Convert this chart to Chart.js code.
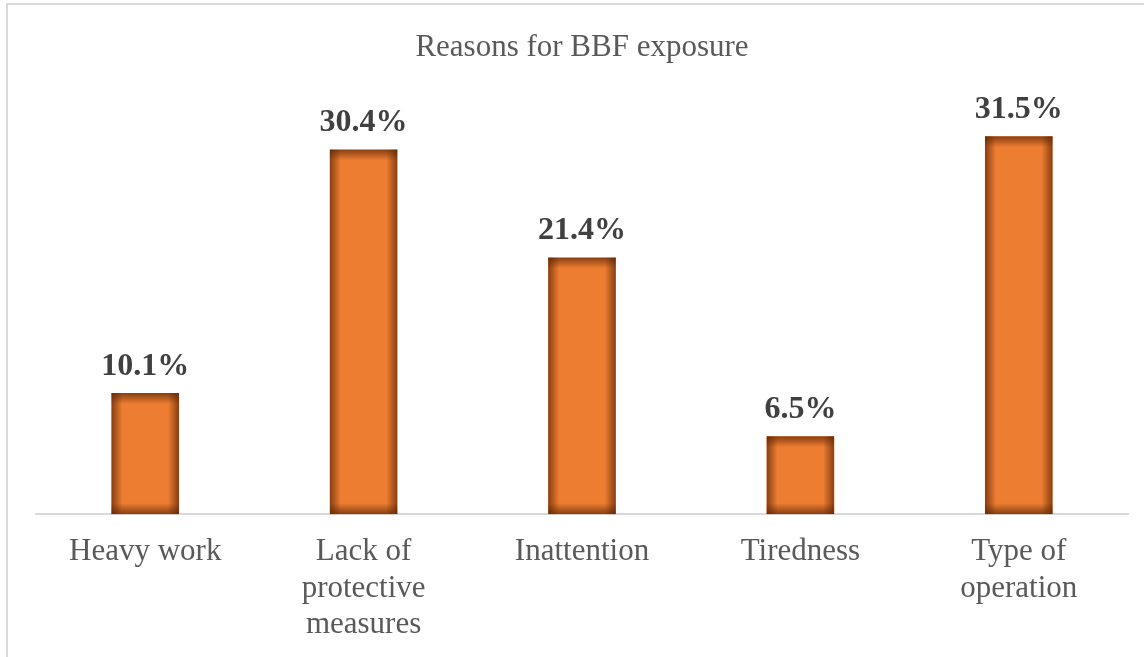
<!DOCTYPE html>
<html>
<head>
<meta charset="utf-8">
<script src="https://cdn.jsdelivr.net/npm/chart.js@4/dist/chart.umd.min.js"></script>
<style>
  html, body { margin: 0; padding: 0; background: #ffffff; }
  #wrap { width: 1144px; height: 657px; position: relative; }
</style>
</head>
<body>
<div id="wrap"><canvas id="chart" width="1144" height="657"></canvas></div>
<script>
const categories = [
    'Heavy work',
    ['Lack of', 'protective', 'measures'],
    'Inattention',
    'Tiredness',
    ['Type of', 'operation']
];
const percentages = [10.1, 30.4, 21.4, 6.5, 31.5];
const titleText = 'Reasons for BBF exposure';

const serif = '"Liberation Serif", "Times New Roman", serif';

// frame round the picture, like the exported chart area
const framePlugin = {
    id: 'frame',
    beforeDraw(chart) {
        const ctx = chart.ctx;
        ctx.save();
        ctx.fillStyle = '#ffffff';
        ctx.fillRect(0, 0, chart.width, chart.height);
        ctx.strokeStyle = '#d9d9d9';
        ctx.lineWidth = 2;
        ctx.strokeRect(7, 4, chart.width + 20, chart.height + 20);
        ctx.restore();
    }
};

// inner shadow on each bar plus the value label above it
const barDecor = {
    id: 'barDecor',
    afterDatasetsDraw(chart) {
        const ctx = chart.ctx;
        const meta = chart.getDatasetMeta(0);
        meta.data.forEach((bar, i) => {
            const left = bar.x - bar.width / 2;
            const right = bar.x + bar.width / 2;
            const top = bar.y;
            const bottom = bar.base;
            const w = right - left;
            const h = bottom - top;
            const edge = 11;
            ctx.save();
            ctx.beginPath();
            ctx.rect(left, top, w, h);
            ctx.clip();
            const shade = 'rgba(90,35,5,0.7)';
            const clear = 'rgba(90,35,5,0)';
            let g = ctx.createLinearGradient(left, 0, left + edge, 0);
            g.addColorStop(0, shade); g.addColorStop(1, clear);
            ctx.fillStyle = g; ctx.fillRect(left, top, edge, h);
            g = ctx.createLinearGradient(right, 0, right - edge, 0);
            g.addColorStop(0, shade); g.addColorStop(1, clear);
            ctx.fillStyle = g; ctx.fillRect(right - edge, top, edge, h);
            g = ctx.createLinearGradient(0, top, 0, top + edge);
            g.addColorStop(0, shade); g.addColorStop(1, clear);
            ctx.fillStyle = g; ctx.fillRect(left, top, w, edge);
            g = ctx.createLinearGradient(0, bottom, 0, bottom - edge);
            g.addColorStop(0, shade); g.addColorStop(1, clear);
            ctx.fillStyle = g; ctx.fillRect(left, bottom - edge, w, edge);
            ctx.restore();

            ctx.save();
            ctx.fillStyle = '#404040';
            ctx.font = 'bold 32px ' + serif;
            ctx.textAlign = 'center';
            ctx.textBaseline = 'alphabetic';
            ctx.fillText(percentages[i].toFixed(1) + '%', bar.x, bar.y - 18);
            ctx.restore();
        });
    }
};

const ctx = document.getElementById('chart').getContext('2d');
new Chart(ctx, {
    type: 'bar',
    data: {
        labels: categories,
        datasets: [{
            data: percentages,
            backgroundColor: '#ed7d31',
            borderWidth: 0,
            categoryPercentage: 1.0,
            barPercentage: 0.31
        }]
    },
    options: {
        responsive: false,
        animation: false,
        layout: {
            padding: { left: 36, right: 16, top: 0, bottom: -6 }
        },
        plugins: {
            legend: { display: false },
            tooltip: { enabled: false },
            title: {
                display: true,
                text: titleText,
                color: '#595959',
                font: { family: serif, size: 31, weight: 'normal', lineHeight: 1.2 },
                padding: { top: 29, bottom: 28 }
            }
        },
        scales: {
            x: {
                grid: { display: false, drawTicks: false },
                border: { display: true, color: '#d9d9d9', width: 2 },
                ticks: {
                    color: '#595959',
                    font: { family: serif, size: 31, lineHeight: 1.17 },
                    padding: 20,
                    maxRotation: 0,
                    autoSkip: false
                }
            },
            y: {
                display: false,
                min: 0,
                max: 35
            }
        }
    },
    plugins: [framePlugin, barDecor]
});
</script>
</body>
</html>
